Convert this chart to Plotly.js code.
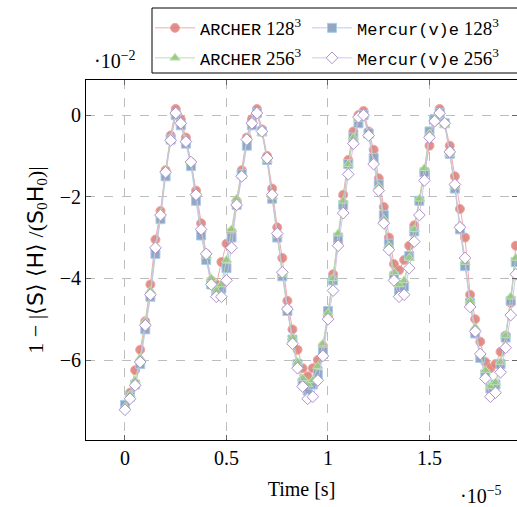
<!DOCTYPE html>
<html>
<head>
<meta charset="utf-8">
<script src="https://cdn.plot.ly/plotly-3.0.1.min.js"></script>
<style>html,body{margin:0;padding:0;background:#fff;}#chart{width:517px;height:507px;}</style>
</head>
<body>
<div id="chart"></div>
<script>
// Time in units of 1e-5 s
const time = [0.000,0.025,0.050,0.075,0.100,0.125,0.150,0.175,0.200,0.225,
  0.250,0.275,0.300,0.325,0.350,0.375,0.400,0.425,0.450,0.475,
  0.500,0.525,0.550,0.575,0.600,0.625,0.650,0.675,0.700,0.725,
  0.750,0.775,0.800,0.825,0.850,0.875,0.900,0.925,0.950,0.975,
  1.000,1.025,1.050,1.075,1.100,1.125,1.150,1.175,1.200,1.225,
  1.250,1.275,1.300,1.325,1.350,1.375,1.400,1.425,1.450,1.475,
  1.500,1.525,1.550,1.575,1.600,1.625,1.650,1.675,1.700,1.725,
  1.750,1.775,1.800,1.825,1.850,1.875,1.900,1.925];

// values in units of 1e-2
const archer128 = [-7.10,-6.80,-6.25,-5.75,-5.05,-4.15,-3.05,-2.35,-1.35,-0.50,
  0.15,-0.10,-0.55,-1.15,-1.85,-2.65,-3.40,-4.05,-4.15,-3.60,
  -3.15,-2.85,-2.10,-1.35,-0.55,-0.10,0.15,-0.35,-1.00,-1.80,
  -2.75,-3.50,-4.55,-5.25,-5.75,-6.20,-6.40,-6.20,-6.00,-5.65,
  -4.95,-3.90,-3.10,-1.95,-1.10,-0.40,0.00,0.10,-0.40,-0.85,
  -1.55,-2.25,-3.00,-3.65,-3.80,-3.55,-3.20,-2.70,-2.10,-1.40,
  -0.75,-0.15,0.15,-0.20,-0.75,-1.50,-2.30,-3.00,-4.40,-5.00,
  -5.55,-6.05,-6.20,-6.10,-5.80,-5.40,-4.60,-3.20];

const mercure128 = [-7.10,-6.90,-6.60,-6.10,-5.25,-4.45,-3.40,-2.55,-1.50,-0.60,
  0.00,-0.25,-0.70,-1.25,-2.10,-2.95,-3.55,-4.15,-4.30,-4.25,
  -3.75,-3.00,-2.20,-1.45,-0.75,-0.25,0.05,-0.40,-1.10,-2.05,
  -3.00,-3.95,-4.80,-5.50,-6.10,-6.55,-6.75,-6.60,-6.35,-5.80,
  -4.80,-4.05,-3.00,-2.20,-1.20,-0.55,-0.20,0.00,-0.45,-1.05,
  -1.70,-2.45,-3.15,-3.95,-4.30,-4.20,-3.45,-2.85,-2.10,-1.40,
  -0.40,-0.10,0.05,-0.20,-0.95,-1.80,-2.80,-3.70,-4.60,-5.35,
  -5.95,-6.35,-6.70,-6.60,-6.10,-5.45,-4.55,-3.60];

const archer256 = [-7.15,-6.85,-6.50,-5.95,-5.05,-4.30,-3.20,-2.40,-1.35,-0.55,
  0.05,-0.20,-0.60,-1.15,-1.95,-2.80,-3.45,-4.00,-4.30,-4.15,
  -3.55,-2.80,-2.05,-1.45,-0.55,-0.15,0.05,-0.45,-1.10,-2.00,
  -2.95,-3.90,-4.70,-5.45,-6.05,-6.45,-6.60,-6.50,-6.15,-5.60,
  -4.85,-4.00,-2.90,-2.10,-1.20,-0.55,-0.10,0.00,-0.50,-1.15,
  -1.75,-2.55,-3.20,-3.85,-4.15,-4.05,-3.50,-2.80,-2.05,-1.30,
  -0.45,-0.10,0.05,-0.25,-0.95,-1.75,-2.70,-3.60,-4.55,-5.20,
  -5.85,-6.25,-6.65,-6.55,-6.05,-5.40,-4.45,-3.50];

const mercure256 = [-7.22,-6.95,-6.62,-6.05,-5.15,-4.40,-3.25,-2.45,-1.40,-0.62,
  0.05,-0.20,-0.65,-1.15,-1.95,-2.80,-3.40,-4.15,-4.45,-4.45,
  -4.05,-3.25,-2.20,-1.50,-0.60,-0.20,0.05,-0.40,-1.05,-1.95,
  -2.90,-3.85,-4.75,-5.60,-6.20,-6.65,-6.95,-6.90,-6.50,-5.90,
  -5.00,-4.30,-3.20,-2.40,-1.45,-0.70,-0.05,0.00,-0.50,-1.20,
  -1.85,-2.65,-3.30,-4.05,-4.45,-4.40,-3.75,-3.10,-2.45,-1.60,
  -0.55,-0.15,0.05,-0.20,-0.90,-1.70,-2.75,-3.50,-4.70,-5.30,
  -5.85,-6.45,-6.90,-6.80,-6.30,-5.70,-4.90,-3.90];

const MONO = 'Liberation Mono';
const SERIF = 'Liberation Serif';
const SANS = 'DejaVu Sans';

const monoSpan = t => '<span style="font-family:' + MONO + ';font-size:17px">' + t + '</span>';
const names = [
  monoSpan('ARCHER') + ' 128<sup>3</sup>',
  monoSpan('Mercur(v)e') + ' 128<sup>3</sup>',
  monoSpan('ARCHER') + ' 256<sup>3</sup>',
  monoSpan('Mercur(v)e') + ' 256<sup>3</sup>'
];

function tr(y, name, leg, lineColor, sym, fill, edge) {
  return {
    x: time, y: y, name: name, legend: leg, type: 'scatter', mode: 'lines+markers',
    line: {color: lineColor, width: 1},
    marker: {symbol: sym, size: 9, color: fill, line: {color: edge, width: 1}}
  };
}

const data = [
  tr(archer128, names[0], 'legend', 'rgba(238,160,160,0.9)', 'circle', 'rgba(220,128,122,0.88)', 'rgba(240,165,160,1)'),
  tr(mercure128, names[1], 'legend2', 'rgba(170,200,228,0.9)', 'square', 'rgba(138,163,195,0.95)', 'rgba(170,205,235,1)'),
  tr(archer256, names[2], 'legend3', 'rgba(180,220,165,0.9)', 'triangle-up', 'rgba(150,200,130,0.95)', 'rgba(190,228,175,1)'),
  tr(mercure256, names[3], 'legend4', 'rgba(210,190,228,0.9)', 'diamond', '#ffffff', 'rgba(175,145,200,1)')
];

function px2py(py) { return 1 + (80 - py) / 360; }
function px2px(px) { return (px - 86) / 431; }

const legBase = {
  orientation: 'v', xanchor: 'left', yanchor: 'middle',
  borderwidth: 0, bgcolor: 'rgba(0,0,0,0)',
  font: {family: SERIF, size: 19, color: '#000'},
  itemwidth: 40
};
const leg = (x, y) => Object.assign({}, legBase, {x: px2px(x), y: px2py(y)});

const layout = {
  width: 517, height: 507,
  margin: {l: 86, r: 0, t: 80, b: 67},
  paper_bgcolor: '#fff', plot_bgcolor: '#fff',
  font: {family: SERIF, size: 19, color: '#000'},
  showlegend: true,
  legend: leg(150, 28),
  legend2: leg(307, 28),
  legend3: leg(150, 58),
  legend4: leg(307, 58),
  shapes: [
    {type: 'rect', xref: 'paper', yref: 'paper', x0: px2px(152), x1: px2px(530),
     y0: px2py(73), y1: px2py(8), line: {color: '#000', width: 1}, fillcolor: 'rgba(0,0,0,0)'}
  ],
  xaxis: {
    range: [-0.192, 1.931],
    tickvals: [0, 0.5, 1, 1.5], ticktext: ['0', '0.5', '1', '1.5'],
    showgrid: true, gridcolor: '#bdbdbd', griddash: 'dash', gridwidth: 1,
    zeroline: false, showline: true, linecolor: '#000', linewidth: 1, mirror: 'ticks',
    ticks: 'inside', ticklen: 5, tickcolor: '#666',
    tickfont: {family: SERIF, size: 20},
    title: {text: 'Time [s]', font: {family: SERIF, size: 20}, standoff: 13}
  },
  yaxis: {
    range: [-7.96, 0.86],
    tickvals: [0, -2, -4, -6],
    showgrid: true, gridcolor: '#bdbdbd', griddash: 'dash', gridwidth: 1,
    zeroline: false, showline: true, linecolor: '#000', linewidth: 1, mirror: 'ticks',
    ticks: 'inside', ticklen: 5, tickcolor: '#666',
    tickfont: {family: SERIF, size: 20},
    title: {
      text: '1 − |⟨<span style="font-family:' + SANS + '">S</span>⟩ ⟨<span style="font-family:' + SANS + '">H</span>⟩ /(<span style="font-family:' + SANS + '">S</span><sub>0</sub><span style="font-family:' + SANS + '">H</span><sub>0</sub>)|',
      font: {family: SERIF, size: 22}, standoff: 10
    }
  },
  annotations: [
    {text: '·10<sup>−2</sup>', xref: 'paper', yref: 'paper', x: px2px(92), y: px2py(74),
     xanchor: 'left', yanchor: 'bottom', showarrow: false, font: {family: SERIF, size: 20}},
    {text: '·10<sup>−5</sup>', xref: 'paper', yref: 'paper', x: px2px(504), y: px2py(481),
     xanchor: 'right', yanchor: 'top', showarrow: false, font: {family: SERIF, size: 20}}
  ]
};

Plotly.newPlot('chart', data, layout, {displayModeBar: false, staticPlot: true});
</script>
</body>
</html>
